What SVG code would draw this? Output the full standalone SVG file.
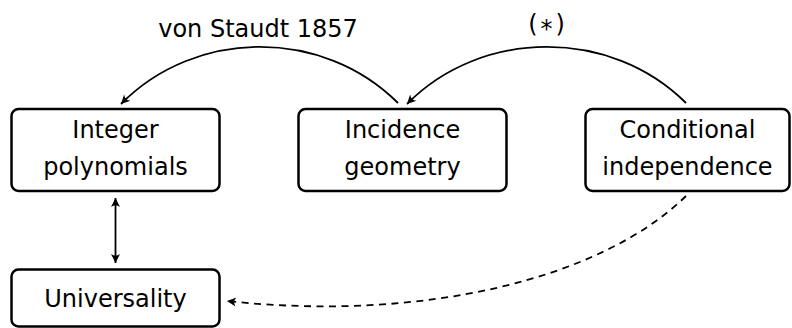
<svg xmlns="http://www.w3.org/2000/svg" width="792" height="328" viewBox="0 0 792 328">
<style>
.box{fill:#fff;stroke:#000;stroke-width:2.5}
.t{font-family:"DejaVu Sans",sans-serif;font-size:24px;fill:#000;text-anchor:middle}
.c{fill:none;stroke:#000;stroke-width:1.8}
.d{stroke-dasharray:7,5.5}
</style>
<defs>
<marker id="ah" viewBox="-10 -6 12 12" refX="0" refY="0" markerWidth="12" markerHeight="12" markerUnits="userSpaceOnUse" orient="auto-start-reverse">
<path d="M0,0 L-9,-4.5 Q-5.5,0 -9,4.5 Z" fill="#000"/>
</marker>
</defs>
<rect width="792" height="328" fill="#fff"/>
<g id="integer">
<rect class="box" x="11.5" y="109" width="208" height="82" rx="7"/>
<text class="t" x="115.5" y="138">Integer</text>
<text class="t" x="115.5" y="175">polynomials</text>
</g>
<g id="incidence">
<rect class="box" x="298.5" y="109" width="208" height="82" rx="7"/>
<text class="t" x="402.5" y="138">Incidence</text>
<text class="t" x="402.5" y="175">geometry</text>
</g>
<g id="conditional">
<rect class="box" x="585.5" y="109" width="204" height="82" rx="7"/>
<text class="t" x="687.5" y="138">Conditional</text>
<text class="t" x="687.5" y="175">independence</text>
</g>
<g id="universality">
<rect class="box" x="11.5" y="269.5" width="208" height="57" rx="7"/>
<text class="t" x="115.5" y="307">Universality</text>
</g>
<g id="connectors">
<path class="c" d="M398,103 C323,28 196,28 121,104" marker-end="url(#ah)"/>
<text class="t" x="258" y="37">von Staudt 1857</text>
<path class="c" d="M686,103 C611,28 482,28 407,104" marker-end="url(#ah)"/>
<text class="t" x="546.5" y="32">(<tspan dx="3" dy="5">*</tspan><tspan dx="3" dy="-5">)</tspan></text>
<path class="c" d="M115.5,198 L115.5,263" marker-start="url(#ah)" marker-end="url(#ah)"/>
<path class="c d" d="M686,196 C600,280 420,322 227,301" marker-end="url(#ah)"/>
</g>
</svg>
